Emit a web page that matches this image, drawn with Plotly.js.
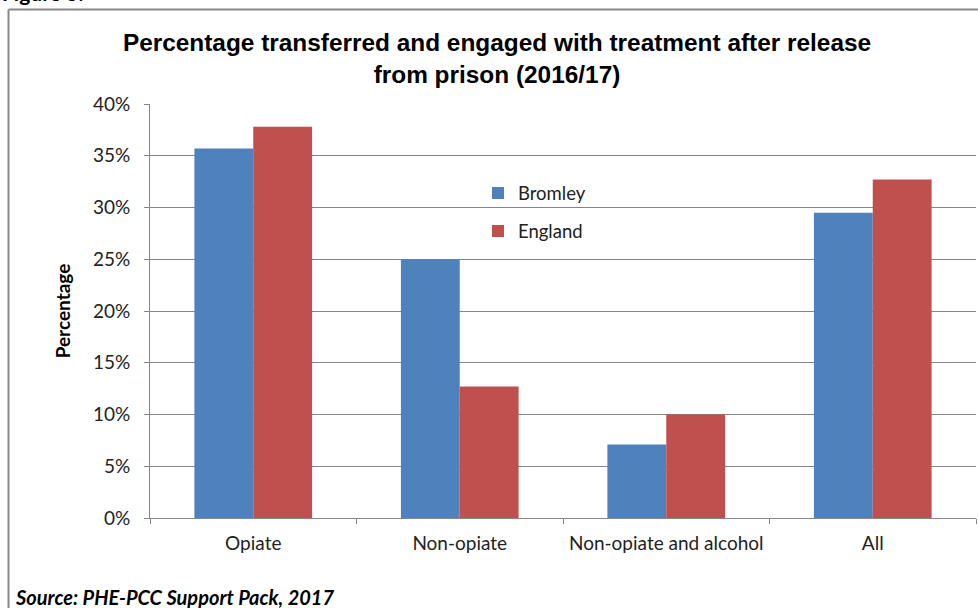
<!DOCTYPE html>
<html>
<head>
<meta charset="utf-8">
<script src="https://cdn.plot.ly/plotly-3.0.1.min.js"></script>
<style>
html,body{margin:0;padding:0;background:#fff;}
#chart{width:978px;height:608px;}
</style>
</head>
<body>
<div id="chart"></div>
<script>
const categories = ["Opiate", "Non-opiate", "Non-opiate and alcohol", "All"];
const bromley = [35.7, 25.0, 7.1, 29.5];
const england = [37.8, 12.7, 10.0, 32.7];
const yTickVals = [0, 5, 10, 15, 20, 25, 30, 35, 40];
const yTickText = ["0%", "5%", "10%", "15%", "20%", "25%", "30%", "35%", "40%"];

const W = 978, H = 608;
const M = {l: 150, r: 2, t: 104, b: 90};
const pw = W - M.l - M.r, ph = H - M.t - M.b;
const px = x => (x - M.l) / pw;
const py = y => (H - M.b - y) / ph;

const labelFont = {family: "Lato, 'Liberation Sans', sans-serif", size: 19, color: "#222"};

const traces = [
  {type: "bar", name: "Bromley", x: categories, y: bromley, marker: {color: "#4F81BD"}, legendgroup: "a", hoverinfo: "skip"},
  {type: "bar", name: "England", x: categories, y: england, marker: {color: "#C0504D"}, legendgroup: "b", hoverinfo: "skip"}
];

const layout = {
  width: W, height: H,
  margin: M,
  paper_bgcolor: "#fff", plot_bgcolor: "#fff",
  barmode: "group", bargap: 0.43, bargroupgap: 0,
  title: {
    text: "Percentage transferred and engaged with treatment after release<br>from prison (2016/17)",
    font: {family: "'Liberation Sans', Arial, sans-serif", size: 24.4, color: "#000", weight: "bold"},
    x: 497 / W, xanchor: "center", xref: "container",
    y: 1 - 51 / H, yanchor: "middle", yref: "container"
  },
  xaxis: {
    type: "category",
    showline: true, linecolor: "#868686", linewidth: 1,
    ticks: "outside", tickson: "boundaries", ticklen: 5, tickcolor: "#868686",
    tickfont: labelFont, showgrid: false, zeroline: false,
    ticklabelstandoff: 8
  },
  yaxis: {
    range: [0, 40], tickvals: yTickVals, ticktext: yTickText,
    showline: true, linecolor: "#868686", linewidth: 1,
    ticks: "outside", ticklen: 5, tickcolor: "#868686",
    showgrid: true, gridcolor: "#868686", gridwidth: 1, zeroline: false,
    tickfont: labelFont, ticklabelstandoff: 10,
    title: {text: "Percentage", font: {family: "Lato, 'Liberation Sans', sans-serif", size: 19, color: "#000", weight: "bold"}, standoff: 17}
  },
  showlegend: true,
  legend: {
    x: px(478), xanchor: "left", y: py(174.5), yanchor: "top",
    font: {family: "Lato, 'Liberation Sans', sans-serif", size: 18.5, color: "#222"},
    traceorder: "grouped", tracegroupgap: 11, bgcolor: "rgba(0,0,0,0)"
  },
  shapes: [
    {type: "line", xref: "paper", yref: "paper", x0: px(8.5), x1: px(980), y0: py(9.5), y1: py(9.5), line: {color: "#888", width: 2}},
    {type: "line", xref: "paper", yref: "paper", x0: px(8.5), x1: px(8.5), y0: py(9.5), y1: py(612), line: {color: "#888", width: 2}}
  ],
  annotations: [
    {xref: "paper", yref: "paper", x: px(0), y: py(-7), xanchor: "left", yanchor: "middle", showarrow: false,
     text: "<b>Figure 3:</b>", font: {family: "Lato, 'Liberation Sans', sans-serif", size: 21, color: "#000"}},
    {xref: "paper", yref: "paper", x: px(13), y: py(597), xanchor: "left", yanchor: "middle", showarrow: false,
     text: "<b><i>Source: PHE-PCC Support Pack, 2017</i></b>", font: {family: "Lato, 'Liberation Sans', sans-serif", size: 20, color: "#000"}}
  ]
};

Plotly.newPlot("chart", traces, layout, {staticPlot: true, displayModeBar: false});
</script>
</body>
</html>
